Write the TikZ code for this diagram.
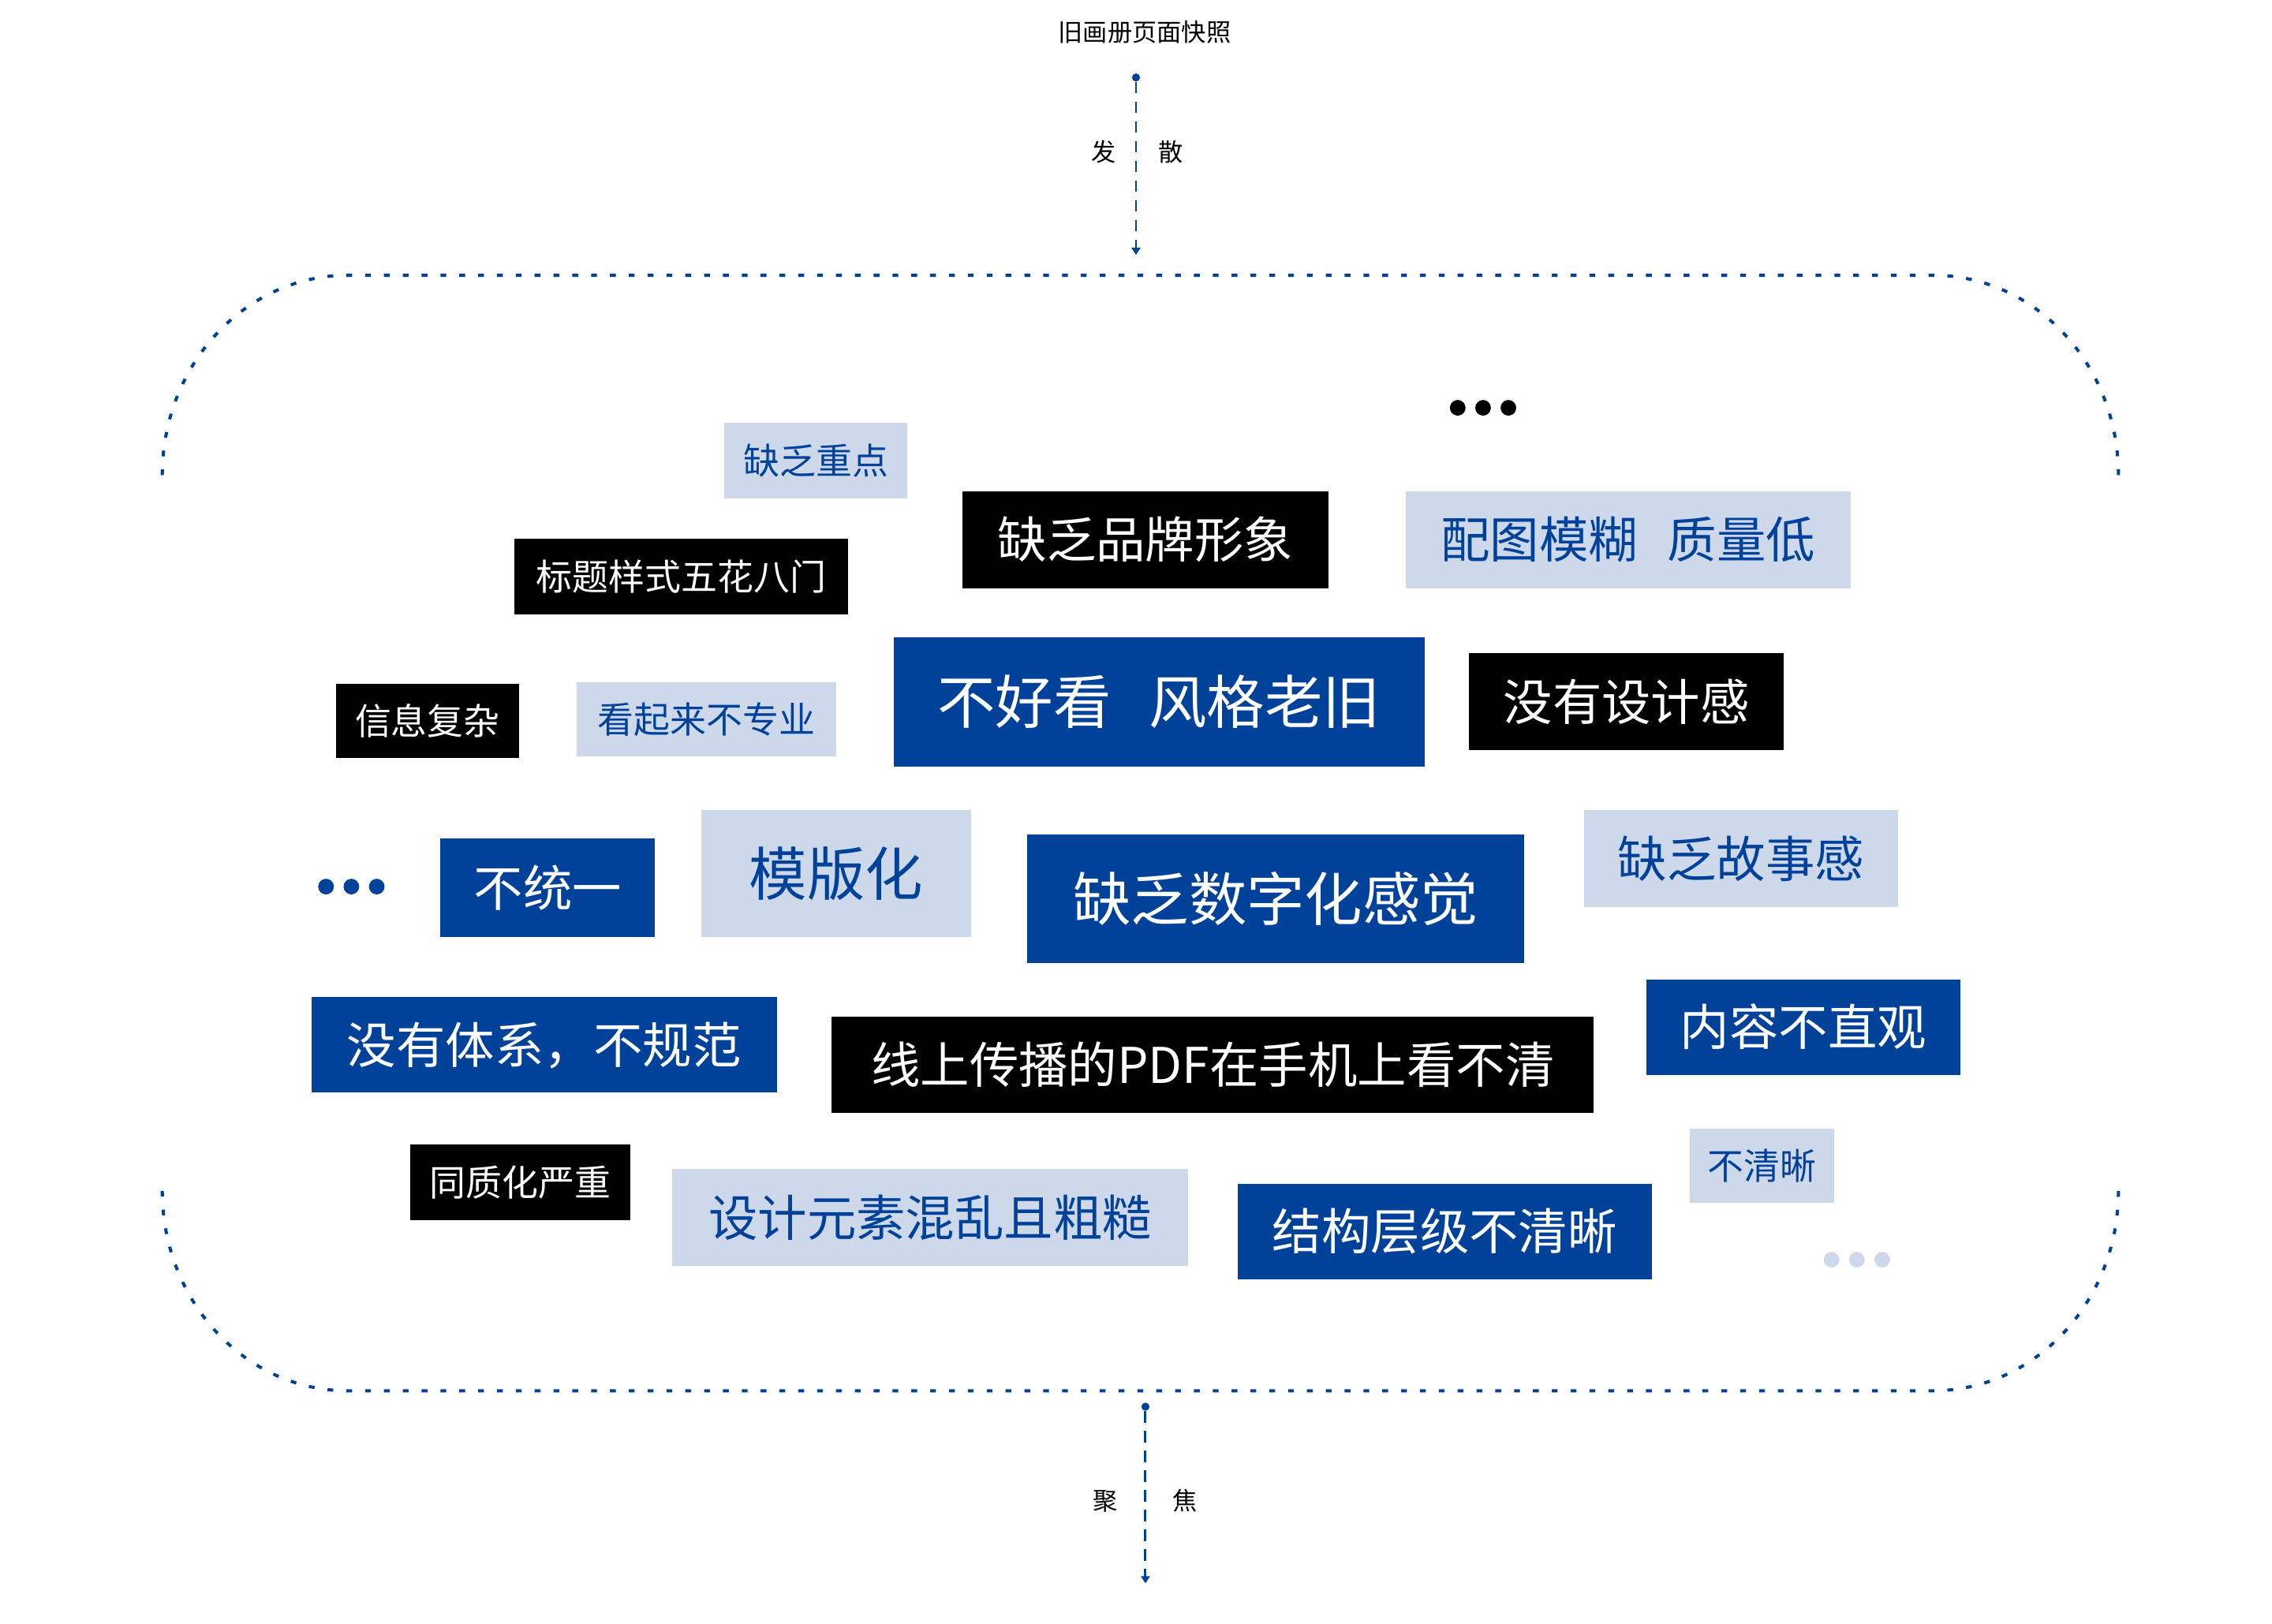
\documentclass[tikz,border=0pt]{standalone}
\usepackage{fontspec}
\setmainfont{Noto Sans CJK SC}
\usepackage{tikz}
\usetikzlibrary{arrows.meta}
\definecolor{mainblue}{HTML}{00419A}
\definecolor{paleblue}{HTML}{CDD9EA}

\begin{document}
\begin{tikzpicture}[x=1pt,y=-1pt,
  tag/.style={inner sep=0pt,align=center},
  lite/.style={tag,fill=paleblue,text=mainblue},
  dark/.style={tag,fill=black,text=white},
  deep/.style={tag,fill=mainblue,text=white},
  fs/.style={font=\fontsize{#1}{#1}\selectfont,text height=0.8*#1,text depth=0.04*#1},
  flow/.style={mainblue,line width=1.6pt,dash pattern=on 8pt off 5.6pt,-{Triangle[width=6pt,length=5pt]}},
  ring/.style={mainblue,line width=2.2pt,dash pattern=on 4pt off 9pt},
  pin/.style={circle,fill=mainblue,minimum size=5.6pt,inner sep=0pt}]
\useasboundingbox (0,0) rectangle (1568,1121);

% top: snapshot and spreading
\node[fs=17] (snap) at (790,22) {旧画册页面快照};
\node[pin] (topdot) at (784,53.5) {};
\coordinate (topend) at (784,176);
\draw[flow] (topdot.south) -- (topend);
\node[fs=17] (fa) at (762,105) {发};
\node[fs=17] (san) at (808,105) {散};

% dashed outline
\draw[ring] (112,328) .. controls (112,252) and (169,190) .. (240,190) -- (1334,190)
  .. controls (1405,190) and (1462,252) .. (1462,328);
\draw[ring] (112,822) .. controls (112,898) and (169,960) .. (240,960) -- (1334,960)
  .. controls (1405,960) and (1462,898) .. (1462,822);

% tags
\node[lite,fs=25,minimum width=126,minimum height=52] (zhongdian) at (563,318) {缺乏重点};
\node[dark,fs=34,minimum width=253,minimum height=67] (pinpai) at (790.5,372.5) {缺乏品牌形象};
\node[lite,fs=34,minimum width=307,minimum height=67] (peitu) at (1123.5,372.5) {配图模糊\hspace{0.6em}质量低};
\node[dark,fs=25,minimum width=230,minimum height=52] (biaoti) at (470,398) {标题样式五花八门};
\node[dark,fs=25,minimum width=126,minimum height=51] (xinxi) at (295,497.5) {信息复杂};
\node[lite,fs=25,minimum width=179,minimum height=51] (zhuanye) at (487.5,496.5) {看起来不专业};
\node[deep,fs=40,minimum width=366,minimum height=89] (haokan) at (800,484.5) {不好看\hspace{0.65em}风格老旧};
\node[dark,fs=34,minimum width=217,minimum height=67] (sheji) at (1122.5,484.5) {没有设计感};
\node[deep,fs=34,minimum width=148,minimum height=68] (tongyi) at (378,613) {不统一};
\node[lite,fs=40,minimum width=186,minimum height=88] (moban) at (577,603) {模版化};
\node[deep,fs=40,minimum width=343,minimum height=89] (shuzi) at (880.5,620.5) {缺乏数字化感觉};
\node[lite,fs=34,minimum width=217,minimum height=67] (gushi) at (1201.5,592.5) {缺乏故事感};
\node[deep,fs=34,minimum width=321,minimum height=66] (tixi) at (375.5,721) {没有体系，不规范};
\node[dark,fs=34,minimum width=526,minimum height=66] (pdf) at (837,735) {线上传播的PDF在手机上看不清};
\node[deep,fs=34,minimum width=217,minimum height=66] (zhiguan) at (1244.5,709) {内容不直观};
\node[dark,fs=25,minimum width=152,minimum height=52] (tongzhi) at (359,816) {同质化严重};
\node[lite,fs=34,minimum width=356,minimum height=67] (yuansu) at (642,840.5) {设计元素混乱且粗糙};
\node[deep,fs=34,minimum width=286,minimum height=66] (jiegou) at (997,850) {结构层级不清晰};
\node[lite,fs=25,minimum width=100,minimum height=51] (qingxi) at (1216,804.5) {不清晰};

% dots
\foreach \x in {1006,1023.5,1041}
  \fill (\x,281.5) circle (5.4);
\foreach \x in {225,242.5,260}
  \fill[mainblue] (\x,612) circle (5.4);
\foreach \x in {1264,1281.5,1299}
  \fill[paleblue] (\x,869.5) circle (5.4);

% bottom: focusing
\node[pin] (botdot) at (790.5,971) {};
\coordinate (botend) at (790.5,1093);
\draw[flow] (botdot.south) -- (botend);
\node[fs=17] (ju) at (763,1036) {聚};
\node[fs=17] (jiao) at (818,1036) {焦};

\end{tikzpicture}
\end{document}
